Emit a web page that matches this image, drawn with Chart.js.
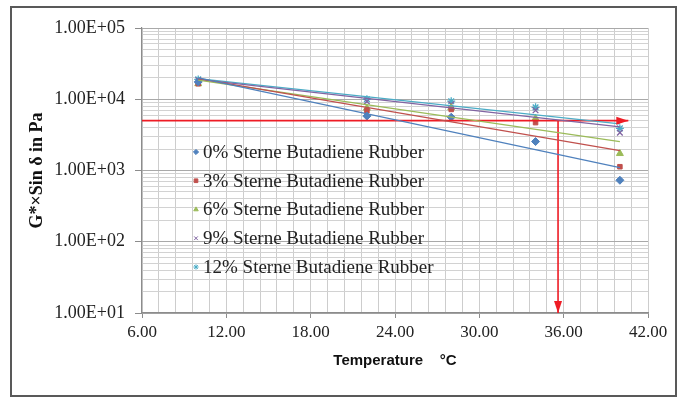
<!DOCTYPE html>
<html>
<head>
<meta charset="utf-8">
<script src="https://cdn.jsdelivr.net/npm/chart.js@4.4.1/dist/chart.umd.min.js"></script>
<style>
  html, body { margin: 0; padding: 0; background: #fff; }
  #wrap { width: 683px; height: 400px; }
</style>
</head>
<body>
<div id="wrap"><canvas id="chart" width="683" height="400"></canvas></div>
<script>
// temperatures (°C) and G*·sin(delta) values (Pa)
const temperatures = [10, 22, 28, 34, 40];
const seriesNames = [
    '0% Sterne Butadiene Rubber',
    '3% Sterne Butadiene Rubber',
    '6% Sterne Butadiene Rubber',
    '9% Sterne Butadiene Rubber',
    '12% Sterne Butadiene Rubber'
];
const sbr0 = [17500, 5800, 5600, 2550, 730];
const sbr3 = [16500, 6900, 7200, 4700, 1130];
const sbr6 = [16500, 7500, 7600, 5400, 1730];
const sbr9 = [18500, 9300, 8500, 7000, 3400];
const sbr12 = [19000, 10000, 9400, 7700, 3900];

// exponential trendlines, start / end values
const trendX = [10, 40];
const trend0 = [20000, 1100];
const trend3 = [19500, 1900];
const trend6 = [18500, 2550];
const trend9 = [19000, 4100];
const trend12 = [19500, 4500];

// red 5000 Pa limit and the drop down to the temperature axis
const limitValue = 5000;
const limitX = [6, 40.6];
const dropX = 35.6;
const dropY = [5000, 10];

// axis ticks
const xMajorTicks = [6, 12, 18, 24, 30, 36, 42];
const xStep = 1.2;
const yDecades = [10, 100, 1000, 10000, 100000];

const colors = ['#4F81BD', '#C0504D', '#9BBB59', '#8064A2', '#4BACC6'];
const styles = ['rectRot', 'rect', 'triangle', 'crossRot', 'star'];
const values = [sbr0, sbr3, sbr6, sbr9, sbr12];
const trends = [trend0, trend3, trend6, trend9, trend12];
const limitRed = '#EE1C25';

const yGrid = [];
yDecades.forEach(function (d, i) {
    const last = i === yDecades.length - 1;
    for (let k = 1; k <= (last ? 1 : 9); k++) yGrid.push(d * k);
});

function isDecade(v) {
    return yDecades.some(d => Math.abs(d - v) < 1e-9);
}
function isXMajor(v) {
    return xMajorTicks.some(m => Math.abs(m - v) < 1e-6);
}
function sci(v) {
    const e = Math.round(Math.log10(v));
    return '1.00E+' + String(e).padStart(2, '0');
}

const datasets = [];
trends.forEach(function (tr, i) {
    datasets.push({
        label: 'trend ' + i,
        data: trendX.map((t, j) => ({x: t, y: tr[j]})),
        showLine: true,
        borderColor: colors[i],
        borderWidth: 1.2,
        pointRadius: 0
    });
});
datasets.push({
    label: 'limit',
    data: limitX.map(t => ({x: t, y: limitValue})),
    showLine: true,
    borderColor: limitRed,
    borderWidth: 1.8,
    pointRadius: 0
});
datasets.push({
    label: 'drop',
    data: dropY.map(v => ({x: dropX, y: v})),
    showLine: true,
    borderColor: limitRed,
    borderWidth: 1.6,
    pointRadius: 0
});
values.forEach(function (vals, i) {
    datasets.push({
        label: seriesNames[i],
        data: temperatures.map((t, j) => ({x: t, y: vals[j]})),
        showLine: false,
        pointStyle: styles[i],
        pointRadius: i === 1 ? 3.2 : 4,
        backgroundColor: colors[i],
        borderColor: colors[i],
        borderWidth: i >= 3 ? 1.3 : 1
    });
});

const frameAndBackground = {
    id: 'frameAndBackground',
    beforeDraw(chart) {
        const ctx = chart.ctx;
        ctx.save();
        ctx.fillStyle = '#fff';
        ctx.fillRect(0, 0, chart.width, chart.height);
        ctx.strokeStyle = '#595959';
        ctx.lineWidth = 2;
        ctx.strokeRect(11, 7, 665, 389);
        ctx.restore();
    }
};

const arrowHeads = {
    id: 'arrowHeads',
    afterDatasetsDraw(chart) {
        const ctx = chart.ctx;
        const hz = chart.getDatasetMeta(5).data[1];
        const vt = chart.getDatasetMeta(6).data[1];
        ctx.save();
        ctx.fillStyle = limitRed;
        ctx.beginPath();
        ctx.moveTo(hz.x, hz.y);
        ctx.lineTo(hz.x - 12, hz.y - 4);
        ctx.lineTo(hz.x - 12, hz.y + 4);
        ctx.closePath();
        ctx.fill();
        ctx.beginPath();
        ctx.moveTo(vt.x, vt.y);
        ctx.lineTo(vt.x - 4, vt.y - 12);
        ctx.lineTo(vt.x + 4, vt.y - 12);
        ctx.closePath();
        ctx.fill();
        ctx.restore();
    }
};

const innerLegend = {
    id: 'innerLegend',
    afterDraw(chart) {
        const ctx = chart.ctx;
        ctx.save();
        ctx.font = '19px "Liberation Serif", "Times New Roman", serif';
        ctx.textBaseline = 'middle';
        seriesNames.forEach(function (name, i) {
            const y = 152 + i * 28.75;
            ctx.fillStyle = colors[i];
            ctx.strokeStyle = colors[i];
            ctx.lineWidth = 1;
            Chart.helpers.drawPoint(ctx, {pointStyle: styles[i], radius: 2.6, rotation: 0, borderWidth: 1}, 196, y);
            ctx.fillStyle = '#222';
            ctx.fillText(name, 203, y + 1);
        });
        ctx.restore();
    }
};

new Chart(document.getElementById('chart'), {
    type: 'scatter',
    data: {datasets: datasets},
    plugins: [frameAndBackground, arrowHeads, innerLegend],
    options: {
        responsive: false,
        animation: false,
        events: [],
        layout: {padding: {left: 0, right: 35, top: 28, bottom: 0}},
        plugins: {
            legend: {display: false},
            tooltip: {enabled: false}
        },
        scales: {
            x: {
                type: 'linear',
                min: 6,
                max: 42,
                afterFit(scale) { scale.height = 87; },
                ticks: {
                    stepSize: xStep,
                    autoSkip: false,
                    maxRotation: 0,
                    padding: 4,
                    color: '#222',
                    font: {family: '"Liberation Serif", "Times New Roman", serif', size: 17},
                    callback: v => isXMajor(v) ? v.toFixed(2) : ''
                },
                grid: {
                    color: '#cdcdcd',
                    lineWidth: 1,
                    tickLength: 5,
                    tickColor: c => (c.tick && isXMajor(c.tick.value)) ? '#8c8c8c' : 'rgba(0,0,0,0)'
                },
                border: {color: '#8c8c8c', width: 1.2},
                title: {
                    display: true,
                    text: 'Temperature    °C',
                    color: '#111',
                    font: {family: '"Liberation Sans", Arial, sans-serif', size: 15, weight: 'bold'},
                    padding: {top: 0, bottom: 30}
                }
            },
            y: {
                type: 'logarithmic',
                min: 10,
                max: 100000,
                afterFit(scale) { scale.width = 142; },
                afterBuildTicks(scale) {
                    scale.ticks = yGrid.map(v => ({value: v}));
                },
                ticks: {
                    autoSkip: false,
                    padding: 10,
                    color: '#222',
                    font: {family: '"Liberation Serif", "Times New Roman", serif', size: 18},
                    callback: v => isDecade(v) ? sci(v) : ''
                },
                grid: {
                    color: c => (c.tick && isDecade(c.tick.value)) ? '#a9a9a9' : '#d2d2d2',
                    lineWidth: 1,
                    tickLength: 7,
                    tickColor: c => (c.tick && isDecade(c.tick.value)) ? '#8c8c8c' : 'rgba(0,0,0,0)'
                },
                border: {color: '#8c8c8c', width: 1.2},
                title: {
                    display: true,
                    text: 'G*×Sin δ in Pa',
                    color: '#111',
                    font: {family: '"Liberation Serif", "Times New Roman", serif', size: 18, weight: 'bold'},
                    padding: {top: 27, bottom: 0}
                }
            }
        }
    }
});
</script>
</body>
</html>
